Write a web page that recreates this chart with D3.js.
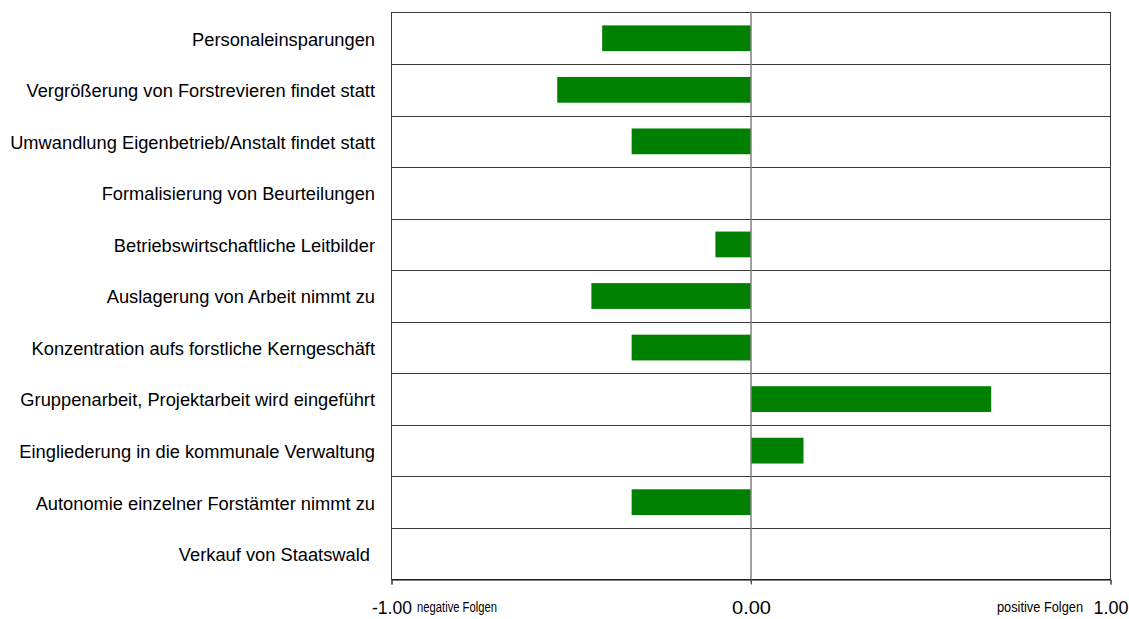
<!DOCTYPE html>
<html><head><meta charset="utf-8">
<script src="https://cdn.jsdelivr.net/npm/d3@7"></script>
<style>body{margin:0;background:#fff}svg{display:block}text{font-family:"Liberation Sans",Arial,sans-serif}</style>
</head><body>
<svg id="c" width="1129" height="619"></svg>
<script>
const categories = [
  "Personaleinsparungen",
  "Vergrößerung von Forstrevieren findet statt",
  "Umwandlung Eigenbetrieb/Anstalt findet statt",
  "Formalisierung von Beurteilungen",
  "Betriebswirtschaftliche Leitbilder",
  "Auslagerung von Arbeit nimmt zu",
  "Konzentration aufs forstliche Kerngeschäft",
  "Gruppenarbeit, Projektarbeit wird eingeführt",
  "Eingliederung in die kommunale Verwaltung",
  "Autonomie einzelner Forstämter nimmt zu",
  "Verkauf von Staatswald "
];
const values = [-0.414, -0.539, -0.332, 0, -0.099, -0.444, -0.332, 0.668, 0.146, -0.332, 0];
const tickValues = [-1, 0, 1];
const tickLabels = ["-1.00", "0.00", "1.00"];

const svg = d3.select("#c");
const L = 391.5, R = 1110.5, T = 12.5, B = 579.5;
const x = d3.scaleLinear().domain([-1, 1]).range([L, R]);
const y = d3.scaleBand().domain(categories).range([T, B]).paddingInner(0.5).paddingOuter(0.25);
const step = y.step();

// row dividers
svg.append("g").selectAll("line").data(categories.slice(1)).join("line")
  .attr("x1", L).attr("x2", R)
  .attr("y1", d => Math.round(y(d) - y.paddingInner()*step/2) + 0.5)
  .attr("y2", d => Math.round(y(d) - y.paddingInner()*step/2) + 0.5)
  .attr("stroke", "#3a3a3a").attr("stroke-width", 1);

// bars
svg.append("g").selectAll("rect").data(values).join("rect")
  .attr("x", d => x(Math.min(0, d)))
  .attr("width", d => Math.abs(x(d) - x(0)))
  .attr("y", (d, i) => y(categories[i]))
  .attr("height", y.bandwidth())
  .attr("fill", "#008000");

// frame
svg.append("rect").attr("x", L).attr("y", T).attr("width", R - L).attr("height", B - T)
  .attr("fill", "none").attr("stroke", "#3a3a3a").attr("stroke-width", 1);

// zero line
svg.append("line").attr("x1", x(0)).attr("x2", x(0)).attr("y1", T - 1).attr("y2", B + 4)
  .attr("stroke", "#808080").attr("stroke-width", 1.5);

// bottom axis
const ax = svg.append("g").attr("transform", `translate(0,${B})`)
  .call(d3.axisBottom(x).tickValues(tickValues).tickSize(5).tickPadding(16)
    .tickFormat((d, i) => tickLabels[i]));
ax.select(".domain").attr("stroke", "#000");
ax.selectAll(".tick line").attr("stroke", "#555");
const tickW = [40, 39, 35];
ax.selectAll(".tick text").attr("font-size", 19).attr("fill", "#000")
  .attr("font-family", '"Liberation Sans",Arial,sans-serif')
  .attr("textLength", (d, i) => tickW[i]).attr("lengthAdjust", "spacingAndGlyphs");

// axis annotations
svg.append("text").attr("x", 417).attr("y", 612).attr("font-size", 14)
  .attr("textLength", 80).attr("lengthAdjust", "spacingAndGlyphs").text("negative Folgen");
svg.append("text").attr("x", 997).attr("y", 612).attr("font-size", 14)
  .attr("textLength", 86).attr("lengthAdjust", "spacingAndGlyphs").text("positive Folgen");

// category labels
svg.append("g").selectAll("text").data(categories).join("text")
  .attr("x", 375).attr("y", d => y(d) + y.bandwidth()/2 + 1)
  .attr("dy", "0.35em").attr("text-anchor", "end")
  .attr("font-size", 18.3).style("white-space", "pre").text(d => d);
</script>
</body></html>
